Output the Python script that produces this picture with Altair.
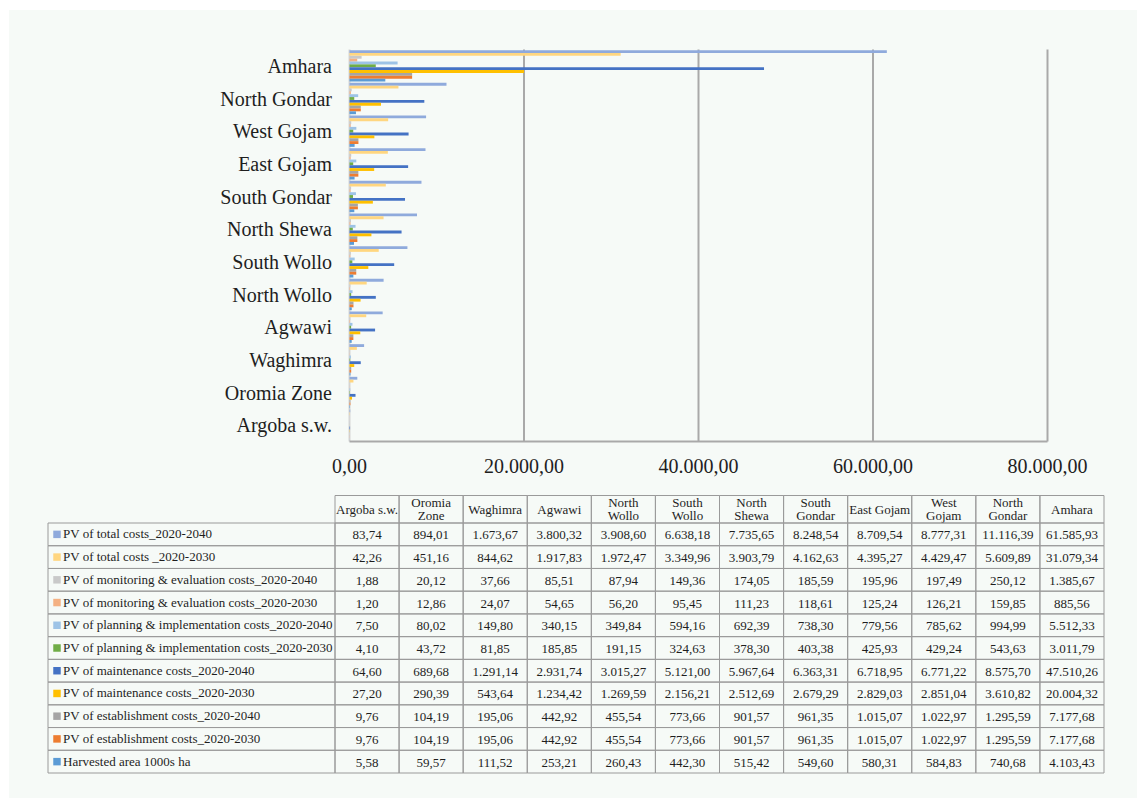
import altair as alt
import pandas as pd

FONT = "Liberation Serif"

# ---------------- data ----------------
regions = ["Argoba s.w.", "Oromia Zone", "Waghimra", "Agwawi", "North Wollo", "South Wollo",
           "North Shewa", "South Gondar", "East Gojam", "West Gojam", "North Gondar", "Amhara"]
header_labels = ["Argoba s.w.", "Oromia\nZone", "Waghimra", "Agwawi", "North\nWollo", "South\nWollo",
                 "North\nShewa", "South\nGondar", "East Gojam", "West\nGojam", "North\nGondar", "Amhara"]
header_lines = [1, 2, 1, 1, 2, 2, 2, 2, 1, 2, 2, 1]

series_names = [
    "PV of total costs_2020-2040",
    "PV of total costs _2020-2030",
    "PV of monitoring & evaluation costs_2020-2040",
    "PV of monitoring & evaluation costs_2020-2030",
    "PV of planning & implementation costs_2020-2040",
    "PV of planning & implementation costs_2020-2030",
    "PV of maintenance costs_2020-2040",
    "PV of maintenance costs_2020-2030",
    "PV of establishment  costs_2020-2040",
    "PV of establishment  costs_2020-2030",
    "Harvested area 1000s ha",
]
series_colors = ["#8FAADC", "#FFD680", "#C9C9C9", "#F4B183", "#9DC3E6", "#70AD47",
                 "#4472C4", "#FFC000", "#A5A5A5", "#ED7D31", "#5B9BD5"]

total_2040 = [83.74, 894.01, 1673.67, 3800.32, 3908.60, 6638.18, 7735.65, 8248.54, 8709.54, 8777.31, 11116.39, 61585.93]
total_2030 = [42.26, 451.16, 844.62, 1917.83, 1972.47, 3349.96, 3903.79, 4162.63, 4395.27, 4429.47, 5609.89, 31079.34]
me_2040 = [1.88, 20.12, 37.66, 85.51, 87.94, 149.36, 174.05, 185.59, 195.96, 197.49, 250.12, 1385.67]
me_2030 = [1.20, 12.86, 24.07, 54.65, 56.20, 95.45, 111.23, 118.61, 125.24, 126.21, 159.85, 885.56]
plan_2040 = [7.50, 80.02, 149.80, 340.15, 349.84, 594.16, 692.39, 738.30, 779.56, 785.62, 994.99, 5512.33]
plan_2030 = [4.10, 43.72, 81.85, 185.85, 191.15, 324.63, 378.30, 403.38, 425.93, 429.24, 543.63, 3011.79]
maint_2040 = [64.60, 689.68, 1291.14, 2931.74, 3015.27, 5121.00, 5967.64, 6363.31, 6718.95, 6771.22, 8575.70, 47510.26]
maint_2030 = [27.20, 290.39, 543.64, 1234.42, 1269.59, 2156.21, 2512.69, 2679.29, 2829.03, 2851.04, 3610.82, 20004.32]
est_2040 = [9.76, 104.19, 195.06, 442.92, 455.54, 773.66, 901.57, 961.35, 1015.07, 1022.97, 1295.59, 7177.68]
est_2030 = [9.76, 104.19, 195.06, 442.92, 455.54, 773.66, 901.57, 961.35, 1015.07, 1022.97, 1295.59, 7177.68]
harvested = [5.58, 59.57, 111.52, 253.21, 260.43, 442.30, 515.42, 549.60, 580.31, 584.83, 740.68, 4103.43]

series_values = [total_2040, total_2030, me_2040, me_2030, plan_2040, plan_2030,
                 maint_2040, maint_2030, est_2040, est_2030, harvested]

ticks = [0, 20000, 40000, 60000, 80000]


def eu(v):
    s = f"{v:,.2f}"
    return s.replace(",", "X").replace(".", ",").replace("X", ".")


long_rows = []
for name, vals in zip(series_names, series_values):
    for r, v in zip(regions, vals):
        long_rows.append({"series": name, "region": r, "value": v, "label": eu(v)})
df_long = pd.DataFrame(long_rows)
df_regions = pd.DataFrame({"region": regions, "hdr": header_labels, "lines": header_lines})
df_series = pd.DataFrame({"series": series_names})
df_ticks = pd.DataFrame({"tick": ticks, "label": [eu(t) for t in ticks]})
df_span = pd.DataFrame({"lo": [ticks[0]], "hi": [ticks[-1]]})
df_one = pd.DataFrame({"a": [0]})

# ---------------- scales ----------------
bar_order = list(reversed(regions))  # Amhara on top
xs = alt.Scale(domain=[ticks[0], ticks[-1]], range=[349.5, 1047.5], nice=False)
ys = alt.Scale(domain=bar_order, range=[49.5, 441.5], paddingInner=0.04, paddingOuter=0.02)
cs = alt.Scale(domain=regions, range=[335, 1104], paddingInner=0, paddingOuter=0)
rs = alt.Scale(domain=series_names, range=[523, 773], paddingInner=0, paddingOuter=0)
colsc = alt.Scale(domain=series_names, range=series_colors)

GRID = "#A9A9A9"
CELL = "#9A9A9A"
TXT = "#1E1E1E"

panel = alt.Chart(df_one).mark_rect(color="#F6FAF7").encode(
    x=alt.value(9), x2=alt.value(1137), y=alt.value(10), y2=alt.value(798))

grid = alt.Chart(df_ticks).transform_filter("datum.tick > 0").mark_rule(
    color=GRID, strokeWidth=2).encode(
    x=alt.X("tick:Q", scale=xs, axis=None), y=alt.value(49.5), y2=alt.value(441.5))

zero_line = alt.Chart(df_ticks).transform_filter("datum.tick == 0").mark_rule(
    color="#D6D6D6", strokeWidth=2).encode(
    x=alt.X("tick:Q", scale=xs, axis=None), y=alt.value(49.5), y2=alt.value(441.5))

base_line = alt.Chart(df_span).mark_rule(color=GRID, strokeWidth=2).encode(
    x=alt.X("lo:Q", scale=xs, axis=None), x2="hi:Q", y=alt.value(441.5))

bars = alt.Chart(df_long).mark_bar().encode(
    x=alt.X("value:Q", scale=xs, axis=None, stack=None),
    y=alt.Y("region:N", scale=ys, axis=None),
    yOffset=alt.YOffset("series:N", scale=alt.Scale(domain=series_names, paddingInner=0, paddingOuter=0)),
    color=alt.Color("series:N", scale=colsc, legend=None),
)

cat_labels = alt.Chart(df_regions).mark_text(
    align="right", baseline="middle", fontSize=20, font=FONT, color=TXT, dy=1).encode(
    y=alt.Y("region:N", scale=ys, axis=None), x=alt.value(332), text="region:N")

tick_labels = alt.Chart(df_ticks).mark_text(
    align="center", baseline="middle", fontSize=20, font=FONT, color=TXT).encode(
    x=alt.X("tick:Q", scale=xs, axis=None), y=alt.value(467), text="label:N")

hdr_cells = alt.Chart(df_regions).mark_rect(fillOpacity=0, stroke=CELL, strokeWidth=1).encode(
    x=alt.X("region:N", scale=cs, axis=None), y=alt.value(495.5), y2=alt.value(523))

hdr_text_two = alt.Chart(df_regions).transform_filter("datum.lines == 2").mark_text(
    align="center", baseline="middle", fontSize=13, lineHeight=13, lineBreak="\n",
    font=FONT, color=TXT).encode(
    x=alt.X("region:N", scale=cs, axis=None), y=alt.value(503), text="hdr:N")

hdr_text_one = alt.Chart(df_regions).transform_filter("datum.lines == 1").mark_text(
    align="center", baseline="middle", fontSize=13, font=FONT, color=TXT).encode(
    x=alt.X("region:N", scale=cs, axis=None), y=alt.value(509.5), text="hdr:N")

data_cells = alt.Chart(df_long).mark_rect(fillOpacity=0, stroke=CELL, strokeWidth=1).encode(
    x=alt.X("region:N", scale=cs, axis=None), y=alt.Y("series:N", scale=rs, axis=None))

data_text = alt.Chart(df_long).mark_text(
    align="center", baseline="middle", fontSize=13, font=FONT, color=TXT, dy=1).encode(
    x=alt.X("region:N", scale=cs, axis=None), y=alt.Y("series:N", scale=rs, axis=None),
    text="label:N")

label_cells = alt.Chart(df_series).mark_rect(fillOpacity=0, stroke=CELL, strokeWidth=1).encode(
    x=alt.value(48), x2=alt.value(335), y=alt.Y("series:N", scale=rs, axis=None))

squares = alt.Chart(df_series).mark_square(size=56, opacity=1).encode(
    x=alt.value(57), y=alt.Y("series:N", scale=rs, axis=None),
    color=alt.Color("series:N", scale=colsc, legend=None))

label_text = alt.Chart(df_series).mark_text(
    align="left", baseline="middle", fontSize=13, font=FONT, color=TXT, dy=0).encode(
    x=alt.value(63), y=alt.Y("series:N", scale=rs, axis=None), text="series:N")

chart = alt.layer(
    panel, zero_line, grid, base_line, bars, cat_labels, tick_labels,
    hdr_cells, hdr_text_two, hdr_text_one, data_cells, data_text, label_cells, squares, label_text,
).resolve_scale(
    x="independent", y="independent", color="independent", yOffset="independent"
).properties(
    width=1146, height=806, padding=0,
    autosize=alt.AutoSizeParams(type="none"),
    background="white",
).configure_view(stroke=None)

chart.save("out.html", embed_options={"renderer": "svg", "actions": False})
